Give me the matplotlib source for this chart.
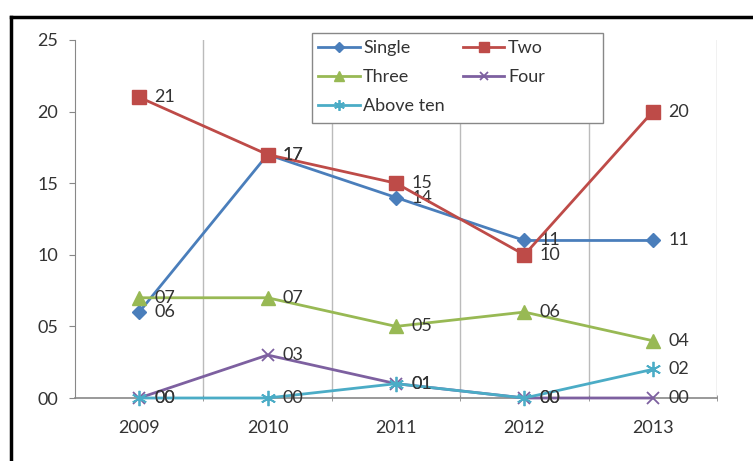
# Line chart: counts by group per year
import matplotlib.pyplot as plt
from matplotlib.lines import Line2D
from matplotlib.patches import Rectangle

years = ['2009', '2010', '2011', '2012', '2013']
single = [6, 17, 14, 11, 11]
two = [21, 17, 15, 10, 20]
three = [7, 7, 5, 6, 4]
four = [0, 3, 1, 0, 0]
above_ten = [0, 0, 1, 0, 2]
y_ticks = [0, 5, 10, 15, 20, 25]
y_labels = ['00', '05', '10', '15', '20', '25']

plt.rcParams['font.family'] = ['Lato', 'DejaVu Sans']
W, H = 753, 461
fs = 13

fig = plt.figure(figsize=(W / 100, H / 100), dpi=100)
ax = fig.add_axes([75 / W, 63 / H, 642 / W, 358 / H])

# black frame around the chart (cut off at right and bottom)
fig.add_artist(Line2D([11 / W, 11 / W], [0, 1 - 17 / H], color='black', lw=2.5,
                      transform=fig.transFigure))
fig.add_artist(Line2D([11 / W, 1], [1 - 17 / H, 1 - 17 / H], color='black', lw=2.5,
                      transform=fig.transFigure))

x = list(range(len(years)))
series = [
    ('Single', single, '#4A7EBB', 'D', 7),
    ('Two', two, '#BE4B48', 's', 10),
    ('Three', three, '#98B954', '^', 10),
    ('Four', four, '#7D60A0', 'x', 9),
    ('Above ten', above_ten, '#4BACC6', (6, 2, 0), 11),
]

handles = {}
for name, vals, color, marker, ms in series:
    line, = ax.plot(x, vals, color=color, lw=2, marker=marker, markersize=ms,
                    markeredgewidth=1.3 if marker in ('x', (6, 2, 0)) else 1,
                    label=name, clip_on=False, zorder=3)
    handles[name] = line
    for xi, v in zip(x, vals):
        ax.annotate('%02d' % v, (xi, v), xytext=(11, 0), textcoords='offset points',
                    ha='left', va='center', fontsize=fs, color='#333333')

ax.set_xlim(-0.5, 4.5)
ax.set_ylim(0, 25)
ax.set_xticks(x)
ax.set_xticklabels(years)
ax.set_xticks([0.5, 1.5, 2.5, 3.5, 4.5], minor=True)
ax.set_yticks(y_ticks)
ax.set_yticklabels(y_labels)
ax.tick_params(axis='x', which='major', length=0, pad=16, labelsize=fs, labelcolor='#333333')
ax.tick_params(axis='x', which='minor', length=5, direction='inout', color='#888888')
ax.tick_params(axis='y', length=4, direction='out', color='#888888', labelsize=fs,
               labelcolor='#333333', pad=8)
ax.grid(axis='x', which='minor', color='#BBBBBB', lw=1)
for s in ['top', 'right']:
    ax.spines[s].set_visible(False)
ax.spines['left'].set_color('#888888')
ax.spines['bottom'].set_color('#888888')
ax.spines['bottom'].set_linewidth(1.2)

# legend box drawn separately (Excel-style fixed width)
fig.add_artist(Rectangle((312 / W, 1 - 123 / H), 291 / W, 90 / H, transform=fig.transFigure,
                         facecolor='white', edgecolor='#888888', lw=1, zorder=4))
# legend filled row by row: Single, Two / Three, Four / Above ten
order = ['Single', 'Three', 'Above ten', 'Two', 'Four']
leg = fig.legend([handles[n] for n in order], order, loc='upper left',
                 bbox_to_anchor=(318 / W, 1 - 40 / H), bbox_transform=fig.transFigure,
                 borderaxespad=0, borderpad=0, ncol=2, fontsize=fs, frameon=False,
                 handlelength=2.3, columnspacing=1.0, labelspacing=0.72,
                 handletextpad=0.2, markerscale=0.7)
leg.set_zorder(5)
for t in leg.get_texts():
    t.set_color('#333333')

fig.savefig('out.png', dpi=100)
